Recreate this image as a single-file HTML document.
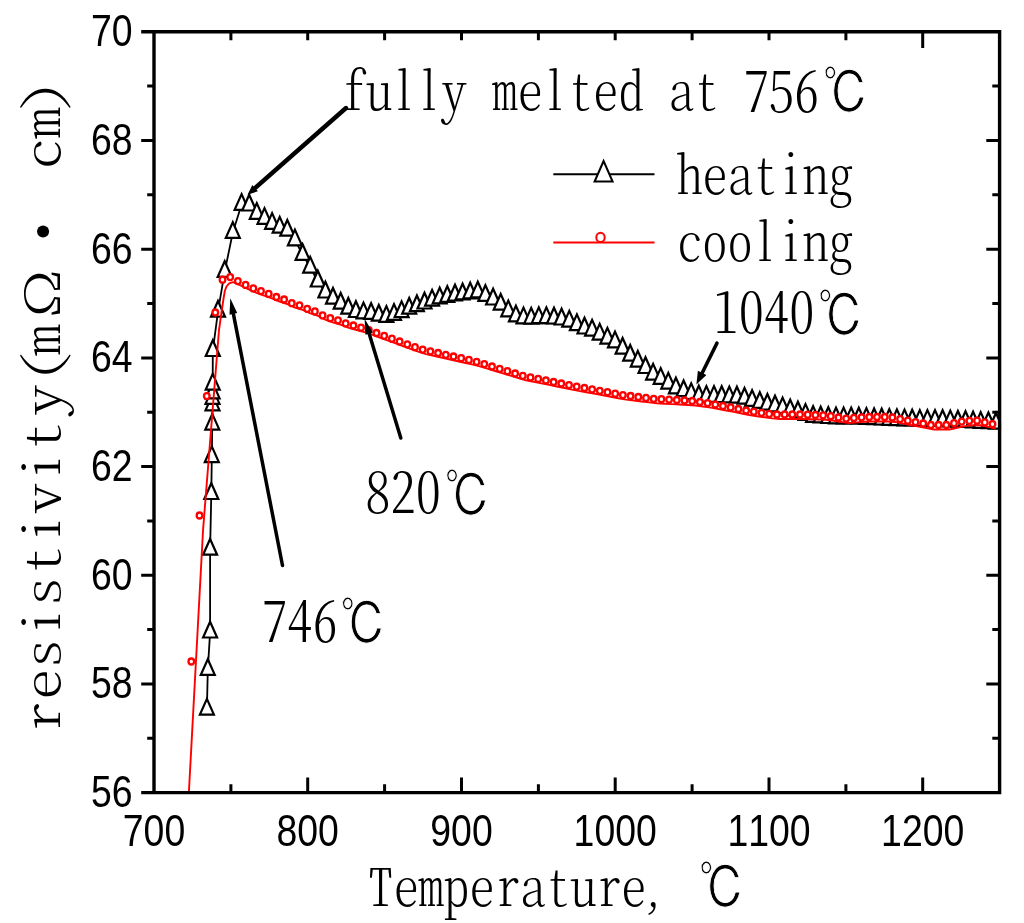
<!DOCTYPE html>
<html lang="en"><head><meta charset="utf-8"><title>resistivity vs temperature</title>
<style>html,body{margin:0;padding:0;background:#fff}svg{display:block}</style></head>
<body>
<svg width="1024" height="923" viewBox="0 0 1024 923">
<rect width="1024" height="923" fill="#fff"/>
<defs><clipPath id="cp"><rect x="154.0" y="31.8" width="847.1" height="760.8"/></clipPath></defs>
<g clip-path="url(#cp)">
<polyline points="206.9,709.3 207.8,669.6 210.1,632.2 210.1,549.4 211.3,493.7 211.8,456.8 212.3,424.3 212.5,405.0 212.5,398.5 212.6,393.0 212.7,384.3 212.8,350.7 218.0,311.4 224.7,271.6 232.8,232.6 241.6,204.5 249.2,205.2 256.8,213.5 264.5,218.5 272.1,223.5 279.7,227.3 287.3,230.4 294.9,240.0 302.6,254.6 310.2,267.3 317.8,281.2 325.4,292.2 333.0,298.4 340.7,303.4 348.3,308.4 355.9,311.7 363.5,313.0 371.1,313.6 378.8,315.4 386.4,316.5 394.0,314.5 401.6,311.8 409.2,308.4 416.9,305.9 424.5,303.2 432.1,300.3 439.7,298.1 447.3,296.6 455.0,295.2 462.6,294.1 470.2,293.1 477.8,292.1 485.4,295.6 493.1,299.2 500.7,304.4 508.3,311.0 515.9,316.1 523.5,318.0 531.2,318.2 538.8,317.8 546.4,317.8 554.0,318.2 561.6,319.2 569.3,321.3 576.9,324.8 584.5,328.2 592.1,330.3 599.7,334.3 607.4,338.3 615.0,342.0 622.6,348.4 630.2,355.4 637.8,361.3 645.5,367.7 653.1,374.3 660.7,378.5 668.3,383.3 675.9,388.1 683.6,390.9 691.2,393.8 698.8,396.1 706.4,396.5 714.0,396.5 721.7,396.7 729.3,397.0 736.9,397.2 744.5,398.4 752.1,400.6 759.8,402.6 767.4,404.4 775.0,406.1 782.6,408.0 790.2,410.1 797.9,412.1 805.5,414.5 813.1,416.6 820.7,417.1 828.3,417.7 836.0,418.0 843.6,418.0 851.2,418.0 858.8,418.2 866.4,418.5 874.1,418.9 881.7,419.2 889.3,419.6 896.9,419.8 904.5,420.0 912.2,420.2 919.8,420.5 927.4,420.5 935.0,420.5 942.6,420.6 950.3,421.0 957.9,421.4 965.5,421.7 973.1,422.1 980.7,422.5 988.4,422.9 996.0,423.4" fill="none" stroke="#000" stroke-width="1.8"/>
<g fill="#fff" stroke="#000" stroke-width="2.2" stroke-linejoin="miter">
<path d="M206.9 698.9l-7 15.7h14z"/>
<path d="M207.8 659.2l-7 15.7h14z"/>
<path d="M210.1 621.8l-7 15.7h14z"/>
<path d="M210.1 539.0l-7 15.7h14z"/>
<path d="M211.3 483.3l-7 15.7h14z"/>
<path d="M211.8 446.4l-7 15.7h14z"/>
<path d="M212.3 413.9l-7 15.7h14z"/>
<path d="M212.5 394.6l-7 15.7h14z"/>
<path d="M212.5 388.1l-7 15.7h14z"/>
<path d="M212.6 382.6l-7 15.7h14z"/>
<path d="M212.7 373.9l-7 15.7h14z"/>
<path d="M212.8 340.3l-7 15.7h14z"/>
<path d="M218.0 301.0l-7 15.7h14z"/>
<path d="M224.7 261.2l-7 15.7h14z"/>
<path d="M232.8 222.2l-7 15.7h14z"/>
<path d="M241.6 194.1l-7 15.7h14z"/>
<path d="M249.2 194.8l-7 15.7h14z"/>
<path d="M256.8 203.1l-7 15.7h14z"/>
<path d="M264.5 208.1l-7 15.7h14z"/>
<path d="M272.1 213.1l-7 15.7h14z"/>
<path d="M279.7 216.9l-7 15.7h14z"/>
<path d="M287.3 220.0l-7 15.7h14z"/>
<path d="M294.9 229.6l-7 15.7h14z"/>
<path d="M302.6 244.2l-7 15.7h14z"/>
<path d="M310.2 256.9l-7 15.7h14z"/>
<path d="M317.8 270.8l-7 15.7h14z"/>
<path d="M325.4 281.8l-7 15.7h14z"/>
<path d="M333.0 288.0l-7 15.7h14z"/>
<path d="M340.7 293.0l-7 15.7h14z"/>
<path d="M348.3 298.0l-7 15.7h14z"/>
<path d="M355.9 301.3l-7 15.7h14z"/>
<path d="M363.5 302.6l-7 15.7h14z"/>
<path d="M371.1 303.2l-7 15.7h14z"/>
<path d="M378.8 305.0l-7 15.7h14z"/>
<path d="M386.4 306.1l-7 15.7h14z"/>
<path d="M394.0 304.1l-7 15.7h14z"/>
<path d="M401.6 301.4l-7 15.7h14z"/>
<path d="M409.2 298.0l-7 15.7h14z"/>
<path d="M416.9 295.5l-7 15.7h14z"/>
<path d="M424.5 292.8l-7 15.7h14z"/>
<path d="M432.1 289.9l-7 15.7h14z"/>
<path d="M439.7 287.7l-7 15.7h14z"/>
<path d="M447.3 286.2l-7 15.7h14z"/>
<path d="M455.0 284.8l-7 15.7h14z"/>
<path d="M462.6 283.7l-7 15.7h14z"/>
<path d="M470.2 282.7l-7 15.7h14z"/>
<path d="M477.8 281.7l-7 15.7h14z"/>
<path d="M485.4 285.2l-7 15.7h14z"/>
<path d="M493.1 288.8l-7 15.7h14z"/>
<path d="M500.7 294.0l-7 15.7h14z"/>
<path d="M508.3 300.6l-7 15.7h14z"/>
<path d="M515.9 305.7l-7 15.7h14z"/>
<path d="M523.5 307.6l-7 15.7h14z"/>
<path d="M531.2 307.9l-7 15.7h14z"/>
<path d="M538.8 307.4l-7 15.7h14z"/>
<path d="M546.4 307.4l-7 15.7h14z"/>
<path d="M554.0 307.8l-7 15.7h14z"/>
<path d="M561.6 308.8l-7 15.7h14z"/>
<path d="M569.3 310.9l-7 15.7h14z"/>
<path d="M576.9 314.4l-7 15.7h14z"/>
<path d="M584.5 317.8l-7 15.7h14z"/>
<path d="M592.1 319.9l-7 15.7h14z"/>
<path d="M599.7 323.9l-7 15.7h14z"/>
<path d="M607.4 327.9l-7 15.7h14z"/>
<path d="M615.0 331.6l-7 15.7h14z"/>
<path d="M622.6 338.0l-7 15.7h14z"/>
<path d="M630.2 345.0l-7 15.7h14z"/>
<path d="M637.8 350.9l-7 15.7h14z"/>
<path d="M645.5 357.3l-7 15.7h14z"/>
<path d="M653.1 363.9l-7 15.7h14z"/>
<path d="M660.7 368.1l-7 15.7h14z"/>
<path d="M668.3 372.9l-7 15.7h14z"/>
<path d="M675.9 377.7l-7 15.7h14z"/>
<path d="M683.6 380.5l-7 15.7h14z"/>
<path d="M691.2 383.4l-7 15.7h14z"/>
<path d="M698.8 385.7l-7 15.7h14z"/>
<path d="M706.4 386.1l-7 15.7h14z"/>
<path d="M714.0 386.1l-7 15.7h14z"/>
<path d="M721.7 386.3l-7 15.7h14z"/>
<path d="M729.3 386.6l-7 15.7h14z"/>
<path d="M736.9 386.8l-7 15.7h14z"/>
<path d="M744.5 388.0l-7 15.7h14z"/>
<path d="M752.1 390.2l-7 15.7h14z"/>
<path d="M759.8 392.2l-7 15.7h14z"/>
<path d="M767.4 394.0l-7 15.7h14z"/>
<path d="M775.0 395.7l-7 15.7h14z"/>
<path d="M782.6 397.6l-7 15.7h14z"/>
<path d="M790.2 399.7l-7 15.7h14z"/>
<path d="M797.9 401.7l-7 15.7h14z"/>
<path d="M805.5 404.1l-7 15.7h14z"/>
<path d="M813.1 406.2l-7 15.7h14z"/>
<path d="M820.7 406.7l-7 15.7h14z"/>
<path d="M828.3 407.3l-7 15.7h14z"/>
<path d="M836.0 407.6l-7 15.7h14z"/>
<path d="M843.6 407.6l-7 15.7h14z"/>
<path d="M851.2 407.6l-7 15.7h14z"/>
<path d="M858.8 407.8l-7 15.7h14z"/>
<path d="M866.4 408.1l-7 15.7h14z"/>
<path d="M874.1 408.5l-7 15.7h14z"/>
<path d="M881.7 408.8l-7 15.7h14z"/>
<path d="M889.3 409.2l-7 15.7h14z"/>
<path d="M896.9 409.4l-7 15.7h14z"/>
<path d="M904.5 409.6l-7 15.7h14z"/>
<path d="M912.2 409.8l-7 15.7h14z"/>
<path d="M919.8 410.1l-7 15.7h14z"/>
<path d="M927.4 410.1l-7 15.7h14z"/>
<path d="M935.0 410.1l-7 15.7h14z"/>
<path d="M942.6 410.2l-7 15.7h14z"/>
<path d="M950.3 410.6l-7 15.7h14z"/>
<path d="M957.9 411.0l-7 15.7h14z"/>
<path d="M965.5 411.3l-7 15.7h14z"/>
<path d="M973.1 411.7l-7 15.7h14z"/>
<path d="M980.7 412.1l-7 15.7h14z"/>
<path d="M988.4 412.5l-7 15.7h14z"/>
<path d="M996.0 413.0l-7 15.7h14z"/>
</g>
<polyline points="188.3,803.0 203.1,529.3 219.0,330.0 223.3,300.0 224.8,291.0 226.5,286.5 229.2,283.4 233.0,282.2 241.1,285.6 248.8,289.4 256.5,292.9 264.2,295.6 271.9,298.4 279.6,301.5 287.3,304.0 295.0,307.7 302.7,309.8 310.4,313.3 318.1,315.9 325.8,319.9 333.5,322.7 341.2,324.8 348.9,327.9 356.6,330.0 364.3,332.2 372.0,334.6 379.7,337.5 387.4,340.3 395.1,343.2 402.8,346.0 410.5,348.8 418.2,351.7 425.9,354.1 433.6,355.8 441.3,357.5 449.0,359.3 456.7,361.0 464.4,362.7 472.1,364.4 479.8,366.3 487.5,368.6 495.2,371.0 502.9,373.3 510.6,375.7 518.3,378.0 526.0,380.3 533.7,381.9 541.4,383.4 549.1,384.9 556.8,386.5 564.5,388.0 572.2,389.6 579.9,391.1 587.6,392.5 595.3,393.9 603.0,395.3 610.7,396.7 618.4,398.2 626.1,399.6 633.8,400.5 641.5,401.5 649.2,402.4 656.9,403.3 664.6,403.7 672.3,404.1 680.0,404.5 687.7,405.0 695.4,405.5 703.1,406.5 710.8,407.6 718.5,409.0 726.2,410.5 733.9,411.9 741.6,413.5 749.3,415.0 757.0,416.2 764.7,417.3 772.4,418.4 780.1,419.0 787.8,419.0 795.5,419.0 803.2,419.0 810.9,419.2 818.6,419.5 826.3,419.8 834.0,420.7 841.7,422.0 849.4,423.1 857.1,422.4 864.8,421.8 872.5,421.5 880.2,421.5 887.9,421.5 895.6,422.0 903.3,423.6 911.0,425.2 918.7,426.6 926.4,428.0 934.1,429.5 941.8,429.5 949.5,429.5 957.2,427.7 964.9,426.1 972.6,425.3 980.3,425.2 988.0,426.9 995.7,428.6" fill="none" stroke="#f00" stroke-width="1.9" stroke-linejoin="round"/>
<ellipse cx="191.3" cy="661.5" rx="2.8" ry="3.0" fill="#fff" stroke="#f00" stroke-width="2.3"/>
<ellipse cx="199.5" cy="515.5" rx="2.8" ry="3.0" fill="#fff" stroke="#f00" stroke-width="2.3"/>
<ellipse cx="206.8" cy="396.1" rx="2.8" ry="3.0" fill="#fff" stroke="#f00" stroke-width="2.3"/>
<ellipse cx="215.3" cy="312.5" rx="2.8" ry="3.0" fill="#fff" stroke="#f00" stroke-width="2.3"/>
<ellipse cx="222.5" cy="279.7" rx="2.8" ry="3.0" fill="#fff" stroke="#f00" stroke-width="2.3"/>
<ellipse cx="230.2" cy="277.1" rx="2.8" ry="3.0" fill="#fff" stroke="#f00" stroke-width="2.3"/>
<ellipse cx="237.9" cy="281.1" rx="2.8" ry="3.0" fill="#fff" stroke="#f00" stroke-width="2.3"/>
<ellipse cx="245.6" cy="284.9" rx="2.8" ry="3.0" fill="#fff" stroke="#f00" stroke-width="2.3"/>
<ellipse cx="253.3" cy="288.4" rx="2.8" ry="3.0" fill="#fff" stroke="#f00" stroke-width="2.3"/>
<ellipse cx="261.0" cy="291.1" rx="2.8" ry="3.0" fill="#fff" stroke="#f00" stroke-width="2.3"/>
<ellipse cx="268.7" cy="293.9" rx="2.8" ry="3.0" fill="#fff" stroke="#f00" stroke-width="2.3"/>
<ellipse cx="276.4" cy="297.0" rx="2.8" ry="3.0" fill="#fff" stroke="#f00" stroke-width="2.3"/>
<ellipse cx="284.1" cy="299.5" rx="2.8" ry="3.0" fill="#fff" stroke="#f00" stroke-width="2.3"/>
<ellipse cx="291.8" cy="303.2" rx="2.8" ry="3.0" fill="#fff" stroke="#f00" stroke-width="2.3"/>
<ellipse cx="299.5" cy="305.3" rx="2.8" ry="3.0" fill="#fff" stroke="#f00" stroke-width="2.3"/>
<ellipse cx="307.2" cy="308.8" rx="2.8" ry="3.0" fill="#fff" stroke="#f00" stroke-width="2.3"/>
<ellipse cx="314.9" cy="311.4" rx="2.8" ry="3.0" fill="#fff" stroke="#f00" stroke-width="2.3"/>
<ellipse cx="322.6" cy="315.4" rx="2.8" ry="3.0" fill="#fff" stroke="#f00" stroke-width="2.3"/>
<ellipse cx="330.3" cy="318.2" rx="2.8" ry="3.0" fill="#fff" stroke="#f00" stroke-width="2.3"/>
<ellipse cx="338.0" cy="320.3" rx="2.8" ry="3.0" fill="#fff" stroke="#f00" stroke-width="2.3"/>
<ellipse cx="345.7" cy="323.4" rx="2.8" ry="3.0" fill="#fff" stroke="#f00" stroke-width="2.3"/>
<ellipse cx="353.4" cy="325.5" rx="2.8" ry="3.0" fill="#fff" stroke="#f00" stroke-width="2.3"/>
<ellipse cx="361.1" cy="327.7" rx="2.8" ry="3.0" fill="#fff" stroke="#f00" stroke-width="2.3"/>
<ellipse cx="368.8" cy="330.1" rx="2.8" ry="3.0" fill="#fff" stroke="#f00" stroke-width="2.3"/>
<ellipse cx="376.5" cy="333.0" rx="2.8" ry="3.0" fill="#fff" stroke="#f00" stroke-width="2.3"/>
<ellipse cx="384.2" cy="335.8" rx="2.8" ry="3.0" fill="#fff" stroke="#f00" stroke-width="2.3"/>
<ellipse cx="391.9" cy="338.7" rx="2.8" ry="3.0" fill="#fff" stroke="#f00" stroke-width="2.3"/>
<ellipse cx="399.6" cy="341.5" rx="2.8" ry="3.0" fill="#fff" stroke="#f00" stroke-width="2.3"/>
<ellipse cx="407.3" cy="344.3" rx="2.8" ry="3.0" fill="#fff" stroke="#f00" stroke-width="2.3"/>
<ellipse cx="415.0" cy="347.2" rx="2.8" ry="3.0" fill="#fff" stroke="#f00" stroke-width="2.3"/>
<ellipse cx="422.7" cy="349.6" rx="2.8" ry="3.0" fill="#fff" stroke="#f00" stroke-width="2.3"/>
<ellipse cx="430.4" cy="351.3" rx="2.8" ry="3.0" fill="#fff" stroke="#f00" stroke-width="2.3"/>
<ellipse cx="438.1" cy="353.0" rx="2.8" ry="3.0" fill="#fff" stroke="#f00" stroke-width="2.3"/>
<ellipse cx="445.8" cy="354.8" rx="2.8" ry="3.0" fill="#fff" stroke="#f00" stroke-width="2.3"/>
<ellipse cx="453.5" cy="356.5" rx="2.8" ry="3.0" fill="#fff" stroke="#f00" stroke-width="2.3"/>
<ellipse cx="461.2" cy="358.2" rx="2.8" ry="3.0" fill="#fff" stroke="#f00" stroke-width="2.3"/>
<ellipse cx="468.9" cy="359.9" rx="2.8" ry="3.0" fill="#fff" stroke="#f00" stroke-width="2.3"/>
<ellipse cx="476.6" cy="361.8" rx="2.8" ry="3.0" fill="#fff" stroke="#f00" stroke-width="2.3"/>
<ellipse cx="484.3" cy="364.1" rx="2.8" ry="3.0" fill="#fff" stroke="#f00" stroke-width="2.3"/>
<ellipse cx="492.0" cy="366.5" rx="2.8" ry="3.0" fill="#fff" stroke="#f00" stroke-width="2.3"/>
<ellipse cx="499.7" cy="368.8" rx="2.8" ry="3.0" fill="#fff" stroke="#f00" stroke-width="2.3"/>
<ellipse cx="507.4" cy="371.2" rx="2.8" ry="3.0" fill="#fff" stroke="#f00" stroke-width="2.3"/>
<ellipse cx="515.1" cy="373.5" rx="2.8" ry="3.0" fill="#fff" stroke="#f00" stroke-width="2.3"/>
<ellipse cx="522.8" cy="375.8" rx="2.8" ry="3.0" fill="#fff" stroke="#f00" stroke-width="2.3"/>
<ellipse cx="530.5" cy="377.4" rx="2.8" ry="3.0" fill="#fff" stroke="#f00" stroke-width="2.3"/>
<ellipse cx="538.2" cy="378.9" rx="2.8" ry="3.0" fill="#fff" stroke="#f00" stroke-width="2.3"/>
<ellipse cx="545.9" cy="380.4" rx="2.8" ry="3.0" fill="#fff" stroke="#f00" stroke-width="2.3"/>
<ellipse cx="553.6" cy="382.0" rx="2.8" ry="3.0" fill="#fff" stroke="#f00" stroke-width="2.3"/>
<ellipse cx="561.3" cy="383.5" rx="2.8" ry="3.0" fill="#fff" stroke="#f00" stroke-width="2.3"/>
<ellipse cx="569.0" cy="385.1" rx="2.8" ry="3.0" fill="#fff" stroke="#f00" stroke-width="2.3"/>
<ellipse cx="576.7" cy="386.6" rx="2.8" ry="3.0" fill="#fff" stroke="#f00" stroke-width="2.3"/>
<ellipse cx="584.4" cy="388.0" rx="2.8" ry="3.0" fill="#fff" stroke="#f00" stroke-width="2.3"/>
<ellipse cx="592.1" cy="389.4" rx="2.8" ry="3.0" fill="#fff" stroke="#f00" stroke-width="2.3"/>
<ellipse cx="599.8" cy="390.8" rx="2.8" ry="3.0" fill="#fff" stroke="#f00" stroke-width="2.3"/>
<ellipse cx="607.5" cy="392.2" rx="2.8" ry="3.0" fill="#fff" stroke="#f00" stroke-width="2.3"/>
<ellipse cx="615.2" cy="393.7" rx="2.8" ry="3.0" fill="#fff" stroke="#f00" stroke-width="2.3"/>
<ellipse cx="622.9" cy="395.1" rx="2.8" ry="3.0" fill="#fff" stroke="#f00" stroke-width="2.3"/>
<ellipse cx="630.6" cy="396.0" rx="2.8" ry="3.0" fill="#fff" stroke="#f00" stroke-width="2.3"/>
<ellipse cx="638.3" cy="397.0" rx="2.8" ry="3.0" fill="#fff" stroke="#f00" stroke-width="2.3"/>
<ellipse cx="646.0" cy="397.9" rx="2.8" ry="3.0" fill="#fff" stroke="#f00" stroke-width="2.3"/>
<ellipse cx="653.7" cy="398.8" rx="2.8" ry="3.0" fill="#fff" stroke="#f00" stroke-width="2.3"/>
<ellipse cx="661.4" cy="399.2" rx="2.8" ry="3.0" fill="#fff" stroke="#f00" stroke-width="2.3"/>
<ellipse cx="669.1" cy="399.6" rx="2.8" ry="3.0" fill="#fff" stroke="#f00" stroke-width="2.3"/>
<ellipse cx="676.8" cy="400.0" rx="2.8" ry="3.0" fill="#fff" stroke="#f00" stroke-width="2.3"/>
<ellipse cx="684.5" cy="400.5" rx="2.8" ry="3.0" fill="#fff" stroke="#f00" stroke-width="2.3"/>
<ellipse cx="692.2" cy="401.0" rx="2.8" ry="3.0" fill="#fff" stroke="#f00" stroke-width="2.3"/>
<ellipse cx="699.9" cy="402.0" rx="2.8" ry="3.0" fill="#fff" stroke="#f00" stroke-width="2.3"/>
<ellipse cx="707.6" cy="403.1" rx="2.8" ry="3.0" fill="#fff" stroke="#f00" stroke-width="2.3"/>
<ellipse cx="715.3" cy="404.5" rx="2.8" ry="3.0" fill="#fff" stroke="#f00" stroke-width="2.3"/>
<ellipse cx="723.0" cy="406.0" rx="2.8" ry="3.0" fill="#fff" stroke="#f00" stroke-width="2.3"/>
<ellipse cx="730.7" cy="407.4" rx="2.8" ry="3.0" fill="#fff" stroke="#f00" stroke-width="2.3"/>
<ellipse cx="738.4" cy="409.0" rx="2.8" ry="3.0" fill="#fff" stroke="#f00" stroke-width="2.3"/>
<ellipse cx="746.1" cy="410.5" rx="2.8" ry="3.0" fill="#fff" stroke="#f00" stroke-width="2.3"/>
<ellipse cx="753.8" cy="411.7" rx="2.8" ry="3.0" fill="#fff" stroke="#f00" stroke-width="2.3"/>
<ellipse cx="761.5" cy="412.8" rx="2.8" ry="3.0" fill="#fff" stroke="#f00" stroke-width="2.3"/>
<ellipse cx="769.2" cy="413.9" rx="2.8" ry="3.0" fill="#fff" stroke="#f00" stroke-width="2.3"/>
<ellipse cx="776.9" cy="414.5" rx="2.8" ry="3.0" fill="#fff" stroke="#f00" stroke-width="2.3"/>
<ellipse cx="784.6" cy="414.5" rx="2.8" ry="3.0" fill="#fff" stroke="#f00" stroke-width="2.3"/>
<ellipse cx="792.3" cy="414.5" rx="2.8" ry="3.0" fill="#fff" stroke="#f00" stroke-width="2.3"/>
<ellipse cx="800.0" cy="414.5" rx="2.8" ry="3.0" fill="#fff" stroke="#f00" stroke-width="2.3"/>
<ellipse cx="807.7" cy="414.7" rx="2.8" ry="3.0" fill="#fff" stroke="#f00" stroke-width="2.3"/>
<ellipse cx="815.4" cy="415.0" rx="2.8" ry="3.0" fill="#fff" stroke="#f00" stroke-width="2.3"/>
<ellipse cx="823.1" cy="415.3" rx="2.8" ry="3.0" fill="#fff" stroke="#f00" stroke-width="2.3"/>
<ellipse cx="830.8" cy="416.2" rx="2.8" ry="3.0" fill="#fff" stroke="#f00" stroke-width="2.3"/>
<ellipse cx="838.5" cy="417.5" rx="2.8" ry="3.0" fill="#fff" stroke="#f00" stroke-width="2.3"/>
<ellipse cx="846.2" cy="418.6" rx="2.8" ry="3.0" fill="#fff" stroke="#f00" stroke-width="2.3"/>
<ellipse cx="853.9" cy="417.9" rx="2.8" ry="3.0" fill="#fff" stroke="#f00" stroke-width="2.3"/>
<ellipse cx="861.6" cy="417.3" rx="2.8" ry="3.0" fill="#fff" stroke="#f00" stroke-width="2.3"/>
<ellipse cx="869.3" cy="417.0" rx="2.8" ry="3.0" fill="#fff" stroke="#f00" stroke-width="2.3"/>
<ellipse cx="877.0" cy="417.0" rx="2.8" ry="3.0" fill="#fff" stroke="#f00" stroke-width="2.3"/>
<ellipse cx="884.7" cy="417.0" rx="2.8" ry="3.0" fill="#fff" stroke="#f00" stroke-width="2.3"/>
<ellipse cx="892.4" cy="417.5" rx="2.8" ry="3.0" fill="#fff" stroke="#f00" stroke-width="2.3"/>
<ellipse cx="900.1" cy="419.1" rx="2.8" ry="3.0" fill="#fff" stroke="#f00" stroke-width="2.3"/>
<ellipse cx="907.8" cy="420.7" rx="2.8" ry="3.0" fill="#fff" stroke="#f00" stroke-width="2.3"/>
<ellipse cx="915.5" cy="422.1" rx="2.8" ry="3.0" fill="#fff" stroke="#f00" stroke-width="2.3"/>
<ellipse cx="923.2" cy="423.5" rx="2.8" ry="3.0" fill="#fff" stroke="#f00" stroke-width="2.3"/>
<ellipse cx="930.9" cy="425.0" rx="2.8" ry="3.0" fill="#fff" stroke="#f00" stroke-width="2.3"/>
<ellipse cx="938.6" cy="425.0" rx="2.8" ry="3.0" fill="#fff" stroke="#f00" stroke-width="2.3"/>
<ellipse cx="946.3" cy="425.0" rx="2.8" ry="3.0" fill="#fff" stroke="#f00" stroke-width="2.3"/>
<ellipse cx="954.0" cy="423.2" rx="2.8" ry="3.0" fill="#fff" stroke="#f00" stroke-width="2.3"/>
<ellipse cx="961.7" cy="421.6" rx="2.8" ry="3.0" fill="#fff" stroke="#f00" stroke-width="2.3"/>
<ellipse cx="969.4" cy="420.8" rx="2.8" ry="3.0" fill="#fff" stroke="#f00" stroke-width="2.3"/>
<ellipse cx="977.1" cy="420.7" rx="2.8" ry="3.0" fill="#fff" stroke="#f00" stroke-width="2.3"/>
<ellipse cx="984.8" cy="422.4" rx="2.8" ry="3.0" fill="#fff" stroke="#f00" stroke-width="2.3"/>
<ellipse cx="992.5" cy="424.1" rx="2.8" ry="3.0" fill="#fff" stroke="#f00" stroke-width="2.3"/>
</g>
<g stroke="#000" stroke-width="3.4" fill="none" stroke-linecap="butt">
<path d="M141.2 31.8H1001.3 M141.2 792.6H1001.3 M154.0 31.8V792.6 M999.6 30.1V794.3"/>
</g>
<g stroke="#000" stroke-width="3" fill="none">
<path d="M147.2 738.3H154.0M992.3 738.3H999.6M141.2 683.9H154.0M986.3 683.9H999.6M147.2 629.6H154.0M992.3 629.6H999.6M141.2 575.2H154.0M986.3 575.2H999.6M147.2 520.9H154.0M992.3 520.9H999.6M141.2 466.5H154.0M986.3 466.5H999.6M147.2 412.2H154.0M992.3 412.2H999.6M141.2 357.9H154.0M986.3 357.9H999.6M147.2 303.5H154.0M992.3 303.5H999.6M141.2 249.2H154.0M986.3 249.2H999.6M147.2 194.8H154.0M992.3 194.8H999.6M141.2 140.5H154.0M986.3 140.5H999.6M147.2 86.1H154.0M992.3 86.1H999.6M230.9 792.6V784.3M230.9 31.8V40.3M307.7 792.6V777.5M307.7 31.8V40.3M384.6 792.6V784.3M384.6 31.8V40.3M461.5 792.6V777.5M461.5 31.8V40.3M538.4 792.6V784.3M538.4 31.8V40.3M615.2 792.6V777.5M615.2 31.8V40.3M692.1 792.6V784.3M692.1 31.8V40.3M769.0 792.6V777.5M769.0 31.8V40.3M845.9 792.6V784.3M845.9 31.8V40.3M922.7 792.6V777.5M922.7 31.8V48.0"/>
</g>
<g font-family="Liberation Sans, Arial, sans-serif" font-size="37.4" fill="#000" style="font-kerning:none">
<text transform="translate(132.5,806.9) scale(1,1.190)" text-anchor="end">56</text>
<text transform="translate(132.5,698.2) scale(1,1.190)" text-anchor="end">58</text>
<text transform="translate(132.5,589.5) scale(1,1.190)" text-anchor="end">60</text>
<text transform="translate(132.5,480.8) scale(1,1.190)" text-anchor="end">62</text>
<text transform="translate(132.5,372.2) scale(1,1.190)" text-anchor="end">64</text>
<text transform="translate(132.5,263.5) scale(1,1.190)" text-anchor="end">66</text>
<text transform="translate(132.5,154.8) scale(1,1.190)" text-anchor="end">68</text>
<text transform="translate(132.5,46.1) scale(1,1.190)" text-anchor="end">70</text>
<text transform="translate(154.0,845.8) scale(1,1.190)" text-anchor="middle">700</text>
<text transform="translate(307.7,845.8) scale(1,1.190)" text-anchor="middle">800</text>
<text transform="translate(461.5,845.8) scale(1,1.190)" text-anchor="middle">900</text>
<text transform="translate(615.2,845.8) scale(1,1.190)" text-anchor="middle">1000</text>
<text transform="translate(769.0,845.8) scale(1,1.190)" text-anchor="middle">1100</text>
<text transform="translate(922.7,845.8) scale(1,1.190)" text-anchor="middle">1200</text>
</g>
<text font-family="Noto Serif CJK SC, Liberation Serif, serif" font-weight="200" style="font-feature-settings:'hwid' 1" font-size="50.4" text-anchor="middle" transform="translate(341.0,110.3) scale(1.000,1.020)" x="12.6 37.8 63.0 88.2 113.4 138.6 163.8 189.0 214.2 239.4 264.6 289.8 315.0 340.2 365.4" y="0">fully melted at</text>
<text font-family="Noto Serif CJK SC, Liberation Serif, serif" font-weight="300" style="font-feature-settings:'hwid' 1" font-size="50.4" text-anchor="middle" transform="translate(743.7,112.0) scale(1.000,1.090)" x="12.6 37.8 63.0" y="0">756</text>
<text font-family="IPAGothic, Noto Sans CJK JP, Noto Serif CJK SC, sans-serif" font-size="42.0" stroke="#fff" stroke-width="0.7" transform="translate(822.69,114.24) scale(1.098,1.381)">℃</text>
<text font-family="Noto Serif CJK SC, Liberation Serif, serif" font-weight="200" style="font-feature-settings:'hwid' 1" font-size="50.4" text-anchor="middle" transform="translate(677.0,194.0) scale(1.000,1.020)" x="12.6 37.8 63.0 88.2 113.4 138.6 163.8" y="0">heating</text>
<text font-family="Noto Serif CJK SC, Liberation Serif, serif" font-weight="200" style="font-feature-settings:'hwid' 1" font-size="50.4" text-anchor="middle" transform="translate(677.0,261.3) scale(1.000,1.020)" x="12.6 37.8 63.0 88.2 113.4 138.6 163.8" y="0">cooling</text>
<text font-family="Noto Serif CJK SC, Liberation Serif, serif" font-weight="300" style="font-feature-settings:'hwid' 1" font-size="50.4" text-anchor="middle" transform="translate(713.6,333.2) scale(1.000,1.090)" x="12.6 37.8 63.0 88.2" y="0">1040</text>
<text font-family="IPAGothic, Noto Sans CJK JP, Noto Serif CJK SC, sans-serif" font-size="42.0" stroke="#fff" stroke-width="0.7" transform="translate(817.69,336.94) scale(1.098,1.381)">℃</text>
<text font-family="Noto Serif CJK SC, Liberation Serif, serif" font-weight="300" style="font-feature-settings:'hwid' 1" font-size="50.4" text-anchor="middle" transform="translate(365.3,513.0) scale(1.000,1.090)" x="12.6 37.8 63.0" y="0">820</text>
<text font-family="IPAGothic, Noto Sans CJK JP, Noto Serif CJK SC, sans-serif" font-size="42.0" stroke="#fff" stroke-width="0.7" transform="translate(444.59,516.84) scale(1.098,1.381)">℃</text>
<text font-family="Noto Serif CJK SC, Liberation Serif, serif" font-weight="300" style="font-feature-settings:'hwid' 1" font-size="50.4" text-anchor="middle" transform="translate(262.0,641.7) scale(1.000,1.090)" x="12.6 37.8 63.0" y="0">746</text>
<text font-family="IPAGothic, Noto Sans CJK JP, Noto Serif CJK SC, sans-serif" font-size="42.0" stroke="#fff" stroke-width="0.7" transform="translate(340.19,645.14) scale(1.098,1.381)">℃</text>
<text font-family="Noto Serif CJK SC, Liberation Serif, serif" font-weight="200" style="font-feature-settings:'hwid' 1" font-size="50.4" text-anchor="middle" transform="translate(368.0,905.5) scale(1.000,1.020)" x="12.7 38.0 63.2 88.6 113.9 139.2 164.5 189.8 215.1 240.4 265.7 285.0" y="0">Temperature,</text>
<text font-family="IPAGothic, Noto Sans CJK JP, Noto Serif CJK SC, sans-serif" font-size="42.0" stroke="#fff" stroke-width="0.7" transform="translate(698.69,909.14) scale(1.098,1.381)">℃</text>
<text font-family="Noto Serif CJK SC, Liberation Serif, serif" font-weight="200" style="font-feature-settings:'hwid' 1" font-size="62.0" text-anchor="middle" transform="translate(59.5,731.0) rotate(-90) scale(1.000,0.780)" x="13.0 46.5 77.5 108.5 139.5 170.5 201.5 232.5 263.5 294.5 331.0 364.0 391.0 437.5" y="0">resistivity(mΩ</text>
<text font-family="Liberation Serif, serif" font-size="50.0" text-anchor="middle" transform="translate(59.5,731.0) rotate(-90) scale(1.000,1.000)" x="499.5" y="0">•</text>
<text font-family="Noto Serif CJK SC, Liberation Serif, serif" font-weight="200" style="font-feature-settings:'hwid' 1" font-size="62.0" text-anchor="middle" transform="translate(59.5,731.0) rotate(-90) scale(1.000,0.780)" x="577.0 608.0 635.5" y="0">cm)</text>
<path d="M553.3 174.2H654.5" stroke="#000" stroke-width="2"/>
<path d="M603.6 161.0l-9.0 20.6h18z" fill="#fff" stroke="#000" stroke-width="2"/>
<path d="M553.3 242.6H654.5" stroke="#f00" stroke-width="2"/>
<ellipse cx="600.5" cy="237.4" rx="4.2" ry="4.6" fill="#fff" stroke="#f00" stroke-width="2"/>
<path d="M346.0 108.0L253.6 189.4" stroke="#000" stroke-width="4.4" stroke-linecap="round"/>
<path d="M247.6 194.7L252.3 184.9L257.9 191.3Z" fill="#000"/>
<path d="M282.5 565.5L233.0 311.9" stroke="#000" stroke-width="3.5" stroke-linecap="round"/>
<path d="M230.3 298.2L237.2 313.1L229.5 314.7Z" fill="#000"/>
<path d="M400.8 438.0L368.6 331.8" stroke="#000" stroke-width="3.5" stroke-linecap="round"/>
<path d="M364.6 318.7L372.8 332.6L365.5 334.8Z" fill="#000"/>
<path d="M716.9 343.2L701.3 374.7" stroke="#000" stroke-width="3.6" stroke-linecap="round"/>
<path d="M696.4 384.6L697.9 370.8L706.4 375.1Z" fill="#000"/>
</svg>
</body></html>
